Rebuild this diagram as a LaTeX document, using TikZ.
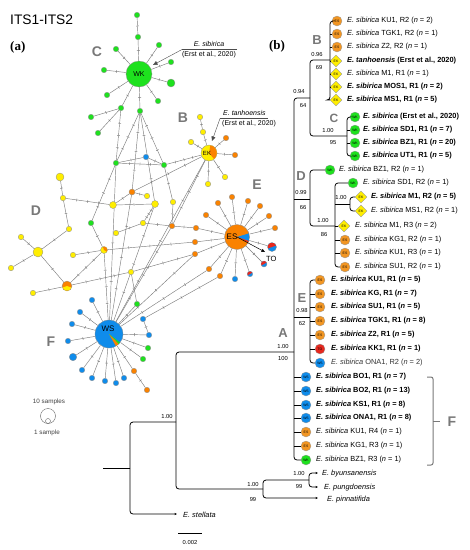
\documentclass[tikz,border=0pt]{standalone}
\usepackage{fontspec}
\setmainfont{Liberation Sans}
\newfontfamily\serifbold{Liberation Serif}
\usetikzlibrary{decorations.markings,arrows.meta,shapes.geometric}
\pgfdeclarelayer{bg}
\pgfsetlayers{bg,main}
\definecolor{cgreen}{RGB}{30,225,30}
\definecolor{corange}{RGB}{250,130,0}
\definecolor{cyellow}{RGB}{255,238,0}
\definecolor{cblue}{RGB}{15,140,235}
\definecolor{cred}{RGB}{230,40,30}
\definecolor{ces}{RGB}{242,150,35}
\definecolor{egray}{RGB}{125,125,125}
\definecolor{lgray}{RGB}{120,120,120}
\newcommand{\esib}{\textit{E. sibirica}}
\newcommand{\nnum}[1]{(\textit{n} = #1)}
\tikzset{
 ed/.style={draw=egray, line width=0.45pt, postaction={decorate},
   decoration={markings, mark=at position 0.5 with {\draw[egray,line width=0.45pt] (0,-1.4pt)--(0,1.4pt);}}},
 led/.style={draw=egray, line width=0.45pt, postaction={decorate},
   decoration={markings, mark=between positions 0.25 and 0.76 step 0.25 with {\draw[egray,line width=0.45pt] (0,-1.4pt)--(0,1.4pt);}}},
 nd/.style={circle, draw=black!45, line width=0.3pt, inner sep=0pt, minimum size=5.5pt},
 ndm/.style={nd, minimum size=7pt},
 gr/.style={fill=cgreen}, orr/.style={fill=corange}, ye/.style={fill=cyellow}, bl/.style={fill=cblue},
 tree/.style={draw=black, line width=0.8pt, rounded corners=3pt},
 tip/.style={-{Stealth[length=2.6pt,width=2.2pt]}},
 mk/.style={circle, draw=black!40, line width=0.3pt, minimum size=10pt, inner sep=0pt, font=\fontsize{3.4}{3.4}\selectfont},
 esm/.style={mk, fill=ces},
 wkm/.style={mk, fill=cgreen},
 wsm/.style={mk, fill=cblue},
 tom/.style={mk, fill=cred},
 ekm/.style={diamond, draw=black!40, line width=0.3pt, fill=cyellow, minimum size=12pt, inner sep=0pt, font=\fontsize{3.4}{3.4}\selectfont},
 lab/.style={anchor=west, inner sep=0pt, font=\fontsize{7.4}{8}\selectfont},
 bs/.style={inner sep=0pt, font=\fontsize{5.8}{6}\selectfont},
 cl/.style={inner sep=0pt, text=lgray, font=\fontsize{13}{13}\selectfont\bfseries},
 ncl/.style={inner sep=0pt, text=lgray, font=\fontsize{14}{14}\selectfont\bfseries},
 ann/.style={draw=black!70, line width=0.4pt},
}
\begin{document}
\begin{tikzpicture}[x=1pt,y=-1pt]
\useasboundingbox (0,0) rectangle (470,550);
% titles
\node[anchor=west, inner sep=0pt, font=\fontsize{13.8}{14}\selectfont] (title) at (10,20) {ITS1-ITS2};
\node[anchor=west, inner sep=0pt, font=\serifbold\fontsize{13}{13}\selectfont\bfseries] (pa) at (10,47) {(a)};
\node[inner sep=0pt, font=\serifbold\fontsize{13}{13}\selectfont\bfseries] (pb) at (277,46) {(b)};

% ================= NETWORK =================
% cluster C
\node[nd,gr,minimum size=26pt] (WK) at (139,74) {};
\node[inner sep=0pt, font=\fontsize{7}{7}\selectfont] (WKt) at (139,74) {WK};
\node[nd,gr] (g1) at (137,15) {};
\node[nd,gr] (g2) at (138,37) {};
\node[nd,gr] (g3) at (159,45) {};
\node[nd,gr] (g4) at (116,49) {};
\node[nd,gr] (g5) at (171,62) {};
\node[nd,gr] (g6) at (104,70) {};
\node[nd,gr,minimum size=8pt] (g7) at (171,83) {};
\node[nd,gr] (g8) at (107,95) {};
\node[nd,gr] (g9) at (158,101) {};
\node[nd,gr] (g10) at (121,108) {};
\node[nd,gr] (g11) at (91,117) {};
\node[nd,gr] (g12) at (98,133) {};
\node[nd,gr] (g13) at (140,111) {};
% middle
\node[nd,bl] (b1) at (146,157) {};
\node[nd,gr] (g14) at (116,163) {};
\node[nd,gr] (g16) at (164,165) {};
\node[nd,orr,minimum size=6pt] (o1) at (132,192) {};
\node[nd,ye] (ya) at (147,196) {};
\node[ndm,ye] (yb) at (113,205) {};
\node[ndm,ye] (yc) at (155,204) {};
\node[nd,ye] (yd) at (173,202) {};
\node[nd,ye] (yee) at (143,223) {};
\node[nd,ye] (yf) at (116,233) {};
\node[nd,orr] (o2) at (172,226) {};
\node[nd,gr] (gD) at (91,223) {};
% cluster B (EK)
\node[nd,ye,minimum size=16pt] (EK) at (209,153) {};
\fill[corange] (EK.center) -- ++(80:7.8pt) arc[start angle=80, end angle=-50, radius=7.8pt] -- cycle;
\node[inner sep=0pt, font=\fontsize{6}{6}\selectfont] (EKt) at (207,153) {EK};
\node[nd,ye] (ek1) at (200,117) {};
\node[nd,ye] (ek2) at (203,132) {};
\node[nd,ye] (ek3) at (191,142) {};
\node[nd,orr] (ek4) at (226,138) {};
\node[nd,orr] (ek5) at (235,155) {};
\node[nd,ye] (ek6) at (225,177) {};
\node[nd,ye] (ek7) at (208,184) {};
% cluster D
\node[nd,ye,minimum size=8pt] (yt) at (60,177) {};
\node[nd,ye] (yu) at (63,198) {};
\node[nd,ye] (yv) at (69,229) {};
\node[nd,ye,minimum size=10pt] (yw) at (38,252) {};
\node[nd,ye] (yx) at (21,237) {};
\node[nd,ye] (yy) at (11,268) {};
\node[nd,ye] (yz) at (73,255) {};
\node[ndm,ye] (oy) at (104,250) {};
\fill[corange] (oy.center) -- ++(110:3.4pt) arc[start angle=110, end angle=-30, radius=3.4pt] -- cycle;
\node[nd,orr,minimum size=10pt] (ob) at (67,286) {};
\fill[cyellow] (ob.center) -- ++(-20:4.8pt) arc[start angle=-20, end angle=-160, radius=4.8pt] -- cycle;
\node[nd,ye] (yq) at (33,293) {};
\node[nd,ye] (yg) at (131,272) {};
% cluster E (ES)
\node[nd,orr,minimum size=25pt] (ES) at (237,237) {};
\fill[cblue] (ES.center) -- ++(17:12.3pt) arc[start angle=17, end angle=-19, radius=12.3pt] -- cycle;
\fill[cred] (ES.center) -- ++(-19:12.3pt) arc[start angle=-19, end angle=-25, radius=12.3pt] -- cycle;
\node[inner sep=0pt, font=\fontsize{8}{8}\selectfont] (ESt) at (232,237) {ES};
\node[nd,orr] (es1) at (232,197) {};
\node[nd,orr] (es2) at (218,203) {};
\node[nd,orr] (es3) at (206,215) {};
\node[nd,orr] (es4) at (196,228) {};
\node[nd,orr] (es5) at (195,242) {};
\node[nd,orr] (es6) at (195,254) {};
\node[nd,orr] (es7) at (209,269) {};
\node[nd,orr] (es8) at (220,276) {};
\node[nd,bl] (esb) at (235,279) {};
\node[nd,orr] (es9) at (275,228) {};
\node[nd,orr] (es10) at (269,216) {};
\node[nd,orr] (es11) at (260,206) {};
\node[nd,orr] (es12) at (248,201) {};
\node[nd,bl] (rb1) at (250,274) {};
\fill[cred] (rb1.center) -- ++(30:2.6pt) arc[start angle=30, end angle=210, radius=2.6pt] -- cycle;
\node[nd,bl,minimum size=6pt] (rb2) at (264,264) {};
\fill[cred] (rb2.center) -- ++(30:2.9pt) arc[start angle=30, end angle=210, radius=2.9pt] -- cycle;
\node[nd,bl,minimum size=9pt] (rb3) at (272,247) {};
\fill[cred] (rb3.center) -- ++(20:4.3pt) arc[start angle=20, end angle=200, radius=4.3pt] -- cycle;
\coordinate (TOa) at (265,252);
\draw[-{Triangle[length=3.5pt,width=3pt]}, line width=0.5pt] (ES.center) -- (TOa);
\node[anchor=west, inner sep=0pt, font=\fontsize{7.5}{7.5}\selectfont] (TO) at (266,259) {TO};
% cluster F (WS)
\node[nd,bl,minimum size=28pt] (WS) at (109,334) {};
\fill[cgreen] (WS.center) -- ++(-38:13.8pt) arc[start angle=-38, end angle=-46, radius=13.8pt] -- cycle;
\fill[corange] (WS.center) -- ++(-46:13.8pt) arc[start angle=-46, end angle=-60, radius=13.8pt] -- cycle;
\node[inner sep=0pt, font=\fontsize{8}{8}\selectfont] (WSt) at (108,329) {WS};
\node[nd,bl] (w1) at (92,300) {};
\node[nd,bl] (w2) at (80,312) {};
\node[nd,bl] (w3) at (72,324) {};
\node[nd,bl] (w4) at (68,341) {};
\node[nd,bl,minimum size=7.5pt] (w5) at (73,357) {};
\node[nd,bl] (w6) at (82,370) {};
\node[nd,bl] (w7) at (92,378) {};
\node[nd,bl] (w8) at (105,381) {};
\node[nd,bl] (w9) at (116,383) {};
\node[nd,bl] (w10) at (124,378) {};
\node[nd,orr] (wo1) at (134,371) {};
\node[nd,orr] (wo2) at (147,390) {};
\node[nd,gr] (wg1) at (143,359) {};
\node[nd,gr] (wg2) at (148,348) {};
\node[nd,bl] (wb1) at (149,335) {};
\node[nd,bl] (wb2) at (143,319) {};
\node[nd,gr] (wg3) at (137,304) {};

\begin{pgfonlayer}{bg}
\foreach \a/\b in {g1/g2,g2/WK,WK/g3,WK/g4,WK/g5,WK/g6,WK/g7,WK/g8,WK/g9,WK/g10,g10/g11,g10/g12,WK/g13,
 g14/b1,b1/g16,o1/ya,o1/yb,yb/yc,yd/o2,yee/yf,yee/o2,o2/es4,g16/yd,
 EK/ek2,ek2/ek1,EK/ek3,EK/ek4,EK/ek5,EK/ek6,EK/ek7,
 yt/yu,yu/yv,yv/yw,yw/yx,yw/yy,yw/ob,ob/yq,yz/oy,gD/oy,
 ES/es1,ES/es2,ES/es3,ES/es4,ES/es5,ES/es6,ES/es7,ES/es8,ES/esb,ES/es9,ES/es10,ES/es11,ES/es12,ES/rb1,ES/rb2,ES/rb3,
 WS/w1,WS/w2,WS/w3,WS/w4,WS/w5,WS/w6,WS/w7,WS/w8,WS/w9,WS/w10,WS/wo1,wo1/wo2,WS/wg1,WS/wg2,WS/wb1,wb1/wb2,WS/wg3,wg3/yg}
  \draw[ed] (\a) -- (\b);
\foreach \a/\b in {g10/g14,g13/g14,g13/o1,g13/g16,g13/yc,g14/g16,g16/EK,o1/EK,yc/yee,yu/yb,g14/gD,ob/oy,oy/es5,ob/yg,yg/es6,
 EK/WS,EK/o2,oy/WS,WS/g14,WS/o1,WS/yc,WS/o2,WS/es7,WS/es6,wb2/es8}
  \draw[led] (\a) -- (\b);
\end{pgfonlayer}

% annotations
\node[inner sep=0pt, font=\fontsize{7}{7}\selectfont] (annC1) at (209,44) {\textit{E. sibirica}};
\node[inner sep=0pt, font=\fontsize{7}{7}\selectfont] (annC2) at (209,54.5) {(Erst et al., 2020)};
\coordinate (annCr) at (237,49.5);
\coordinate (annCl) at (182,49.5);
\coordinate (annCt) at (153,65);
\draw[ann] (annCr) -- (annCl);
\draw[ann, -{Triangle[length=4.5pt,width=4pt]}] (annCl) -- (annCt);
\node[anchor=west, inner sep=0pt, font=\fontsize{7}{7}\selectfont] (annB1) at (223,113) {\textit{E. tanhoensis}};
\node[anchor=west, inner sep=0pt, font=\fontsize{7}{7}\selectfont] (annB2) at (222,124) {(Erst et al., 2020)};
\coordinate (annBr) at (268,118.5);
\coordinate (annBl) at (220,118.5);
\coordinate (annBt) at (212,141);
\draw[ann] (annBr) -- (annBl);
\draw[ann, -{Triangle[length=4.5pt,width=4pt]}] (annBl) -- (annBt);

% cluster letters
\node[ncl] (nC) at (97,52) {C};
\node[ncl] (nB) at (183,118) {B};
\node[ncl] (nD) at (36,211) {D};
\node[ncl] (nE) at (257,185) {E};
\node[ncl] (nF) at (51,342) {F};

% legend
\node[circle, draw=black!60, line width=0.4pt, minimum size=15pt, inner sep=0pt] (leg10) at (48,416) {};
\node[circle, draw=black!60, line width=0.4pt, minimum size=5pt, inner sep=0pt] (leg1) at (48,421) {};
\node[inner sep=0pt, font=\fontsize{6.3}{6.3}\selectfont, text=black!75] (legt1) at (49,402) {10 samples};
\node[inner sep=0pt, font=\fontsize{6.3}{6.3}\selectfont, text=black!75] (legt2) at (47,433) {1 sample};

% ================= TREE =================
% clade B
\node[esm] (b1) at (337,21) {ES};  \node[lab] (tb1) at (347,21) {\esib{} KU1, R2 \nnum{2}};
\node[esm] (b2) at (337,34) {ES};  \node[lab] (tb2) at (347,34) {\esib{} TGK1, R2 \nnum{1}};
\node[esm] (b3) at (337,47) {ES};  \node[lab] (tb3) at (347,47) {\esib{} Z2, R2 \nnum{1}};
\node[ekm] (b4) at (336,61) {EK};  \node[lab] (tb4) at (347,61) {\bfseries\textit{E. tanhoensis} (Erst et al., 2020)};
\node[ekm] (b5) at (336,74) {EK};  \node[lab] (tb5) at (347,74) {\esib{} M1, R1 \nnum{1}};
\node[ekm] (b6) at (336,87) {EK};  \node[lab] (tb6) at (347,87) {\bfseries\esib{} MOS1, R1 \nnum{2}};
\node[ekm] (b7) at (336,100) {EK}; \node[lab] (tb7) at (347,100) {\bfseries\esib{} MS1, R1 \nnum{5}};
% clade C
\node[wkm] (c1) at (355,117) {WK}; \node[lab] (tc1) at (363,117) {\bfseries\esib{} (Erst et al., 2020)};
\node[wkm] (c2) at (355,130) {WK}; \node[lab] (tc2) at (363,130) {\bfseries\esib{} SD1, R1 \nnum{7}};
\node[wkm] (c3) at (355,143) {WK}; \node[lab] (tc3) at (363,143) {\bfseries\esib{} BZ1, R1 \nnum{20}};
\node[wkm] (c4) at (355,156) {WK}; \node[lab] (tc4) at (363,156) {\bfseries\esib{} UT1, R1 \nnum{5}};
% clade D
\node[wkm] (d1) at (330,170) {WK}; \node[lab] (td1) at (339,170) {\esib{} BZ1, R2 \nnum{1}};
\node[wkm] (d2) at (353,183) {WK}; \node[lab] (td2) at (363,183) {\esib{} SD1, R2 \nnum{1}};
\node[ekm] (d3) at (361,197) {EK}; \node[lab] (td3) at (371,197) {\bfseries\esib{} M1, R2 \nnum{5}};
\node[ekm] (d4) at (361,211) {EK}; \node[lab] (td4) at (371,211) {\esib{} MS1, R2 \nnum{1}};
\node[ekm] (d5) at (344,226) {EK}; \node[lab] (td5) at (355,226) {\esib{} M1, R3 \nnum{2}};
\node[esm] (d6) at (345,240) {ES};  \node[lab] (td6) at (355,240) {\esib{} KG1, R2 \nnum{1}};
\node[esm] (d7) at (345,253) {ES};  \node[lab] (td7) at (355,253) {\esib{} KU1, R3 \nnum{1}};
\node[esm] (d8) at (345,267) {ES};  \node[lab] (td8) at (355,267) {\esib{} SU1, R2 \nnum{1}};
% clade E
\node[esm] (e1) at (320,280) {ES}; \node[lab] (te1) at (331,280) {\bfseries\esib{} KU1, R1 \nnum{5}};
\node[esm] (e2) at (320,294) {ES}; \node[lab] (te2) at (331,294) {\bfseries\esib{} KG, R1 \nnum{7}};
\node[esm] (e3) at (320,307) {ES}; \node[lab] (te3) at (331,307) {\bfseries\esib{} SU1, R1 \nnum{5}};
\node[esm] (e4) at (320,321) {ES}; \node[lab] (te4) at (331,321) {\bfseries\esib{} TGK1, R1 \nnum{8}};
\node[esm] (e5) at (320,335) {ES}; \node[lab] (te5) at (331,335) {\bfseries\esib{} Z2, R1 \nnum{5}};
\node[tom] (e6) at (320,349) {TO}; \node[lab] (te6) at (331,349) {\bfseries\esib{} KK1, R1 \nnum{1}};
\node[wsm] (e7) at (320,363) {WS}; \node[lab, text=black!80] (te7) at (331,363) {\esib{} ONA1, R2 \nnum{2}};
% clade F
\node[wsm] (f1) at (306,377) {WS}; \node[lab] (tf1) at (316,377) {\bfseries\esib{} BO1, R1 \nnum{7}};
\node[wsm] (f2) at (306,391) {WS}; \node[lab] (tf2) at (316,391) {\bfseries\esib{} BO2, R1 \nnum{13}};
\node[wsm] (f3) at (306,405) {WS}; \node[lab] (tf3) at (316,405) {\bfseries\esib{} KS1, R1 \nnum{8}};
\node[wsm] (f4) at (306,418) {WS}; \node[lab] (tf4) at (316,418) {\bfseries\esib{} ONA1, R1 \nnum{8}};
\node[esm] (f5) at (306,432) {ES}; \node[lab] (tf5) at (316,432) {\esib{} KU1, R4 \nnum{1}};
\node[esm] (f6) at (306,446) {ES}; \node[lab] (tf6) at (316,446) {\esib{} KG1, R3 \nnum{1}};
\node[wkm] (f7) at (306,460) {WK}; \node[lab] (tf7) at (316,460) {\esib{} BZ1, R3 \nnum{1}};
% outgroups
\coordinate (tBy) at (318,473); \node[lab] (tby) at (322,474) {\textit{E. byunsanensis}};
\coordinate (tPu) at (318,487); \node[lab] (tpu) at (324,488) {\textit{E. pungdoensis}};
\coordinate (tPi) at (318,498); \node[lab] (tpi) at (327,500) {\textit{E. pinnatifida}};
\coordinate (tSt) at (177,514); \node[lab] (tst) at (183,515) {\textit{E. stellata}};
% internal nodes
\coordinate (Bn) at (330,60);
\coordinate (BCn) at (310,98);
\coordinate (Cn) at (347,136);
\coordinate (An) at (294,352);
\coordinate (Dn) at (310,199);
\coordinate (DSn) at (335,226);
\coordinate (DMn) at (350,204);
\coordinate (En) at (310,317);
\coordinate (Ln) at (176,422);
\coordinate (Rt) at (130,468);
\coordinate (Rs) at (103,468);
\coordinate (Og) at (263,489);
\coordinate (BPn) at (309,480);
% branches
\draw[tree] (b1) -| (Bn) |- (b7);
\foreach \n in {b2,b3,b4,b5,b6} \draw[tree] (Bn |- \n) -- (\n);
\draw[tree] (Bn) -| (BCn) |- (Cn);
\draw[tree] (c1) -| (Cn) |- (c4);
\foreach \n in {c2,c3} \draw[tree] (Cn |- \n) -- (\n);
\draw[tree] (BCn) -| (An) |- (f7);
\foreach \n in {f1,f2,f3,f4,f5,f6} \draw[tree] (An |- \n) -- (\n);
\draw[tree] (An |- Dn) -- (Dn);
\draw[tree] (d1) -| (Dn) |- (DSn);
\draw[tree] (d2) -| (DSn) |- (d8);
\draw[tree] (DSn) -- (d5);
\foreach \n in {d6,d7} \draw[tree] (DSn |- \n) -- (\n);
\draw[tree] (DSn |- DMn) -- (DMn);
\draw[tree] (d3) -| (DMn) |- (d4);
\draw[tree] (An |- En) -- (En);
\draw[tree] (e1) -| (En) |- (e7);
\foreach \n in {e2,e3,e4,e5,e6} \draw[tree] (En |- \n) -- (\n);
\draw[tree] (An) -| (Ln) |- (Og);
\draw[tree] (Ln) -| (Rt);
\draw[tree,tip] (Rt) |- (tSt);
\draw[tree] (Rs) -- (Rt);
\draw[tree,tip] (BPn) -| (Og) |- (tPi);
\draw[tree,tip] (BPn) |- (tBy);
\draw[tree,tip] (BPn) |- (tPu);
% support values
\node[bs] (s1) at (317,54) {0.96}; \node[bs] (s2) at (319,67) {69};
\node[bs] (s3) at (299,91) {0.94}; \node[bs] (s4) at (303,105) {64};
\node[bs] (s5) at (328,130) {1.00}; \node[bs] (s6) at (333,142) {95};
\node[bs] (s7) at (301,192) {0.99}; \node[bs] (s8) at (303,207) {66};
\node[bs] (s9) at (323,220) {1.00}; \node[bs] (s10) at (324,234) {86};
\node[bs] (s11) at (341,197) {1.00};
\node[bs] (s12) at (302,310) {0.98}; \node[bs] (s13) at (302,323) {62};
\node[bs] (s14) at (283,346) {1.00}; \node[bs] (s15) at (283,358) {100};
\node[bs] (s16) at (167,416) {1.00};
\node[bs] (s17) at (253,484) {1.00}; \node[bs] (s18) at (253,499) {99};
\node[bs] (s19) at (299,473) {1.00}; \node[bs] (s20) at (299,486) {99};
% clade letters
\node[cl] (LB) at (317,40) {B};
\node[cl, font=\fontsize{12}{12}\selectfont\bfseries] (LC) at (334,118) {C};
\node[cl] (LD) at (301,176) {D};
\node[cl] (LE) at (302,298) {E};
\node[cl] (LA) at (283,333) {A};
% bracket F
\coordinate (Fa) at (427,377); \coordinate (Fb) at (433,377);
\coordinate (Fc) at (433,465); \coordinate (Fd) at (427,465);
\coordinate (Fm) at (433,421); \coordinate (Fn) at (440,421);
\draw[draw=lgray, line width=1pt, rounded corners=2pt] (Fa) -- (Fb) -- (Fc) -- (Fd);
\draw[draw=lgray, line width=1pt] (Fm) -- (Fn);
\node[cl, font=\fontsize{14}{14}\selectfont\bfseries] (LF) at (452,422) {F};
% scale bar
\coordinate (sc1) at (178,533); \coordinate (sc2) at (202,533);
\draw[line width=0.8pt] (sc1) -- (sc2);
\node[bs] (scl) at (190,542) {0.002};
\end{tikzpicture}
\end{document}
